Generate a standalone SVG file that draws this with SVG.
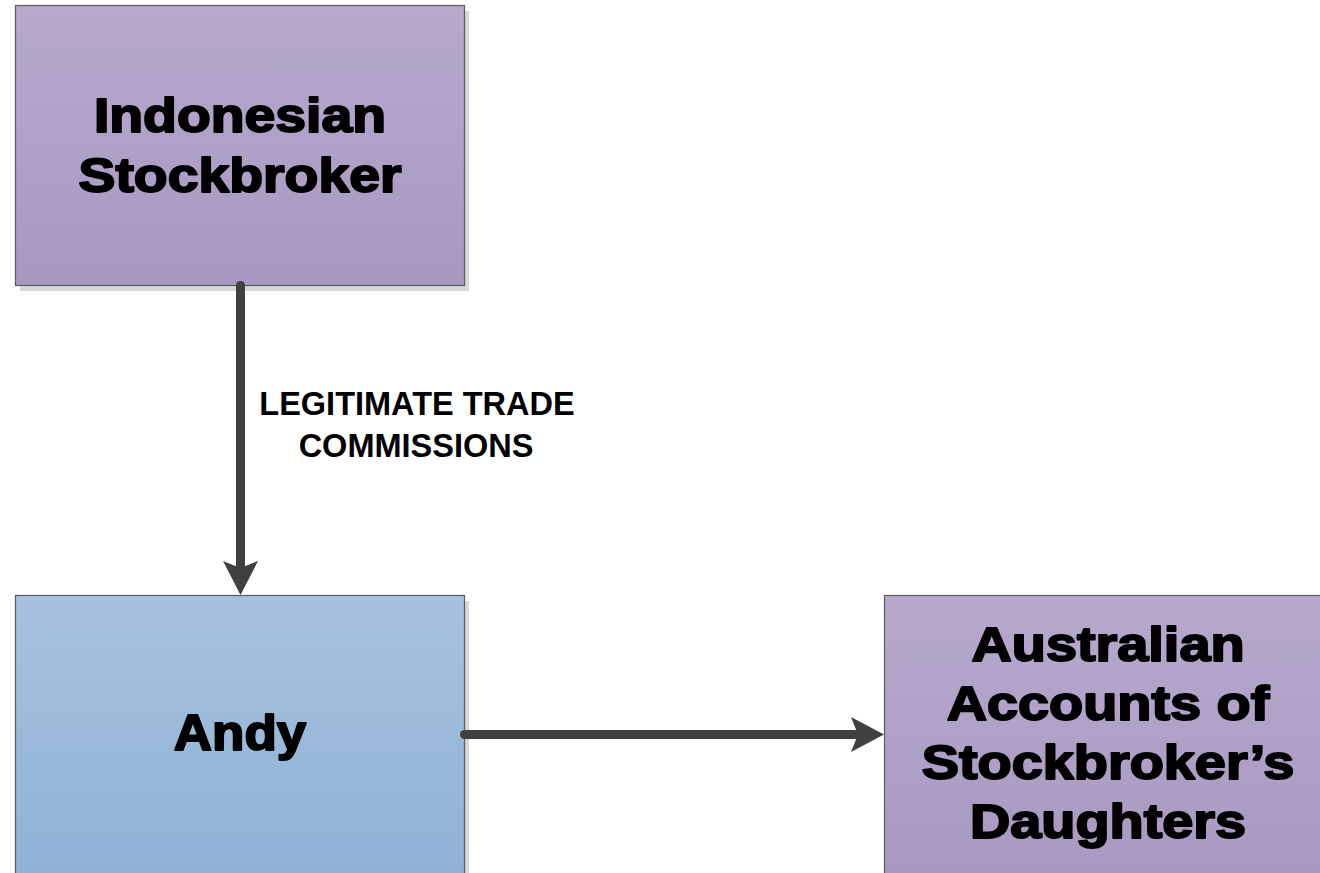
<svg xmlns="http://www.w3.org/2000/svg" width="1320" height="873" viewBox="0 0 1320 873">
<style>
.box{stroke:#5b5b5b;stroke-width:1.2}
.shadow{fill:#d8d8d8}
.title{font-family:"Liberation Sans",Arial,sans-serif;font-weight:bold;font-size:49px;fill:#000;stroke:#000;stroke-width:2;stroke-linejoin:round;text-anchor:middle}
.label{font-family:"Liberation Sans",Arial,sans-serif;font-weight:bold;font-size:32.5px;fill:#000;text-anchor:middle}
.conn{stroke:#404040;stroke-width:9;fill:none;stroke-linecap:round}
.head{fill:#404040}
</style>
<defs>
<linearGradient id="gPurple" x1="0" y1="0" x2="0" y2="1">
<stop offset="0" stop-color="#b6a9cd"/>
<stop offset="1" stop-color="#a898c1"/>
</linearGradient>
<linearGradient id="gBlue" x1="0" y1="0" x2="0" y2="1">
<stop offset="0" stop-color="#a7c2de"/>
<stop offset="1" stop-color="#8db1d6"/>
</linearGradient>
</defs>
<rect width="1320" height="873" fill="#ffffff"/>
<g id="node-indonesian">
<rect class="shadow" x="20" y="11" width="449" height="280"/>
<rect class="box" x="15.5" y="5.5" width="449" height="280" fill="url(#gPurple)"/>
<g transform="translate(240,0) scale(1.13,1)">
<text class="title" x="0" y="132">Indonesian</text>
<text class="title" x="0" y="192">Stockbroker</text>
</g>
</g>
<g id="node-andy">
<rect class="shadow" x="20" y="601" width="449" height="290"/>
<rect class="box" x="15.5" y="595.5" width="449" height="290" fill="url(#gBlue)"/>
<g transform="translate(240,0) scale(1.06,1)">
<text class="title" x="0" y="750" style="font-size:50px">Andy</text>
</g>
</g>
<g id="node-australian">
<rect class="shadow" x="889" y="601" width="449" height="290"/>
<rect class="box" x="884.5" y="595.5" width="449" height="290" fill="url(#gPurple)"/>
<g transform="translate(1108,0) scale(1.14,1)">
<text class="title" x="0" y="661">Australian</text>
<text class="title" x="0" y="720">Accounts of</text>
<text class="title" x="0" y="779">Stockbroker’s</text>
<text class="title" x="0" y="838">Daughters</text>
</g>
</g>
<g id="connectors">
<path class="conn" d="M240.5,285.5 L240.5,570"/>
<path class="head" d="M240.5,595 L223,561 L235.5,566 L245.5,566 L258,561 Z"/>
<path class="conn" d="M464.5,734.5 L860,734.5"/>
<path class="head" d="M884,734.5 L851,717 L856,729.5 L856,739.5 L851,752 Z"/>
<text class="label" x="417" y="415">LEGITIMATE TRADE</text>
<text class="label" x="416" y="457">COMMISSIONS</text>
</g>
</svg>
